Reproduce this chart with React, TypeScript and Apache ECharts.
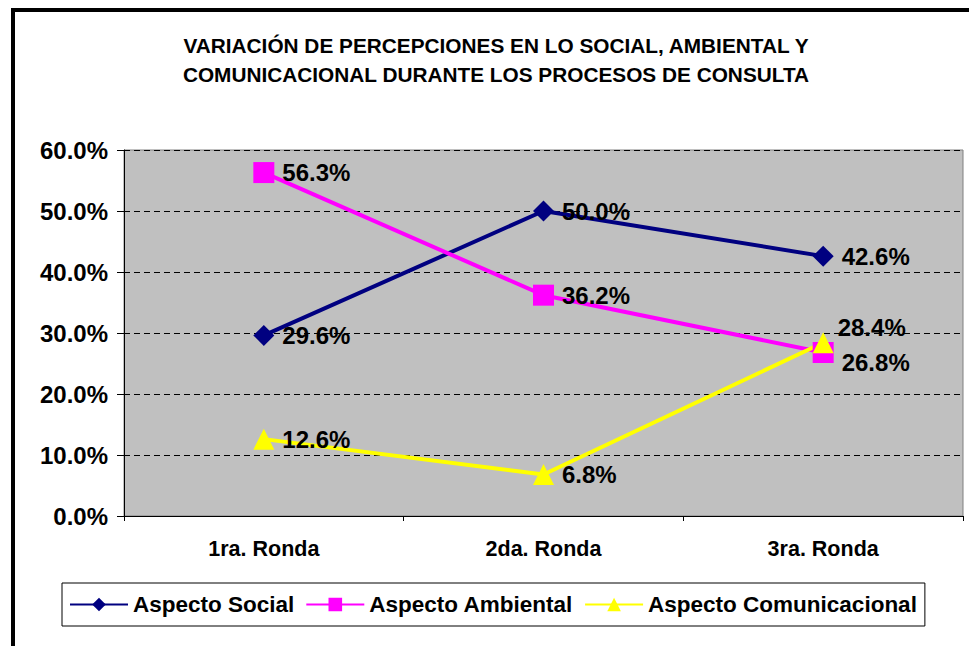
import React, { useEffect, useRef } from "react";
import * as echarts from "echarts";

const categories = ["1ra. Ronda", "2da. Ronda", "3ra. Ronda"];
const social = [29.6, 50.0, 42.6];
const ambiental = [56.3, 36.2, 26.8];
const comunicacional = [12.6, 6.8, 28.4];
const seriesNames = ["Aspecto Social", "Aspecto Ambiental", "Aspecto Comunicacional"];
const titleLines = [
  "VARIACIÓN DE PERCEPCIONES EN LO SOCIAL, AMBIENTAL Y",
  "COMUNICACIONAL DURANTE LOS PROCESOS DE CONSULTA",
];

const FONT = "Arial, 'Liberation Sans', Helvetica, sans-serif";
const fmt = (v: number) => `${v.toFixed(1)}%`;

export default function App() {
  const ref = useRef<HTMLDivElement>(null);
  useEffect(() => {
    document.body.style.margin = "0";
    document.body.style.overflow = "hidden";
    const chart = echarts.init(ref.current!, null, { renderer: "svg" });
    const labelBase = {
      show: true,
      position: "right" as const,
      distance: 8,
      color: "#000",
      fontFamily: FONT,
      fontWeight: "bold" as const,
      fontSize: 24,
      formatter: (p: any) => fmt(p.value),
    };
    const mk = (name: string, data: number[], color: string, symbol: string, size: number, offsets: any[] = []) => ({
      name,
      type: "line",
      data: data.map((v, i) =>
        offsets[i] ? { value: v, label: { offset: offsets[i] } } : v
      ),
      color,
      lineStyle: { color, width: 4 },
      itemStyle: { color },
      symbol,
      symbolSize: size,
      label: labelBase,
      z: 3,
    });
    chart.setOption({
      animation: false,
      backgroundColor: "#fff",
      graphic: [
        {
          type: "rect",
          shape: { x: 13, y: 10, width: 1100, height: 800 },
          style: { fill: "none", stroke: "#000", lineWidth: 4 },
          z: -1,
          silent: true,
        },
        {
          type: "text",
          x: 496,
          y: 31,
          style: {
            text: titleLines.join("\n"),
            fontFamily: FONT,
            fontWeight: "bold",
            fontSize: 20.8,
            lineHeight: 29,
            fill: "#000",
            align: "center",
            verticalAlign: "top",
          },
        },
      ],
      legend: {
        left: 62,
        top: 583,
        data: seriesNames,
        orient: "horizontal",
        borderColor: "#000",
        borderWidth: 1,
        padding: [10, 8, 10, 7],
        itemGap: 11,
        itemWidth: 58,
        itemHeight: 17,
        textStyle: {
          fontFamily: FONT,
          fontWeight: "bold",
          fontSize: 22.5,
          color: "#000",
        },
      },
      grid: {
        left: 124,
        top: 150,
        right: 6,
        bottom: 130,
        show: true,
        backgroundColor: "#C0C0C0",
        borderColor: "#808080",
        borderWidth: 1,
      },
      xAxis: {
        type: "category",
        data: categories,
        boundaryGap: true,
        axisLine: { lineStyle: { color: "#000", width: 1 } },
        axisTick: { show: true, alignWithLabel: false, length: 5, lineStyle: { color: "#000" } },
        axisLabel: {
          margin: 22,
          color: "#000",
          fontFamily: FONT,
          fontWeight: "bold",
          fontSize: 21.5,
        },
        splitLine: { show: false },
      },
      yAxis: {
        type: "value",
        min: 0,
        max: 60,
        interval: 10,
        axisLine: { show: true, lineStyle: { color: "#000", width: 1 } },
        axisTick: { show: true, length: 7, lineStyle: { color: "#000" } },
        axisLabel: {
          margin: 16,
          color: "#000",
          fontFamily: FONT,
          fontWeight: "bold",
          fontSize: 24,
          formatter: (v: number) => fmt(v),
        },
        splitLine: { show: true, lineStyle: { color: "#000", type: [6, 4], width: 1 } },
      },
      series: [
        mk(seriesNames[0], social, "#000080", "diamond", 21),
        mk(seriesNames[1], ambiental, "#FF00FF", "rect", 21, [null, null, [0, 10]]),
        mk(seriesNames[2], comunicacional, "#FFFF00", "triangle", 21, [null, null, [-4, -15]]),
      ],
    });
    return () => chart.dispose();
  }, []);
  return <div ref={ref} style={{ width: 969, height: 646 }} />;
}
